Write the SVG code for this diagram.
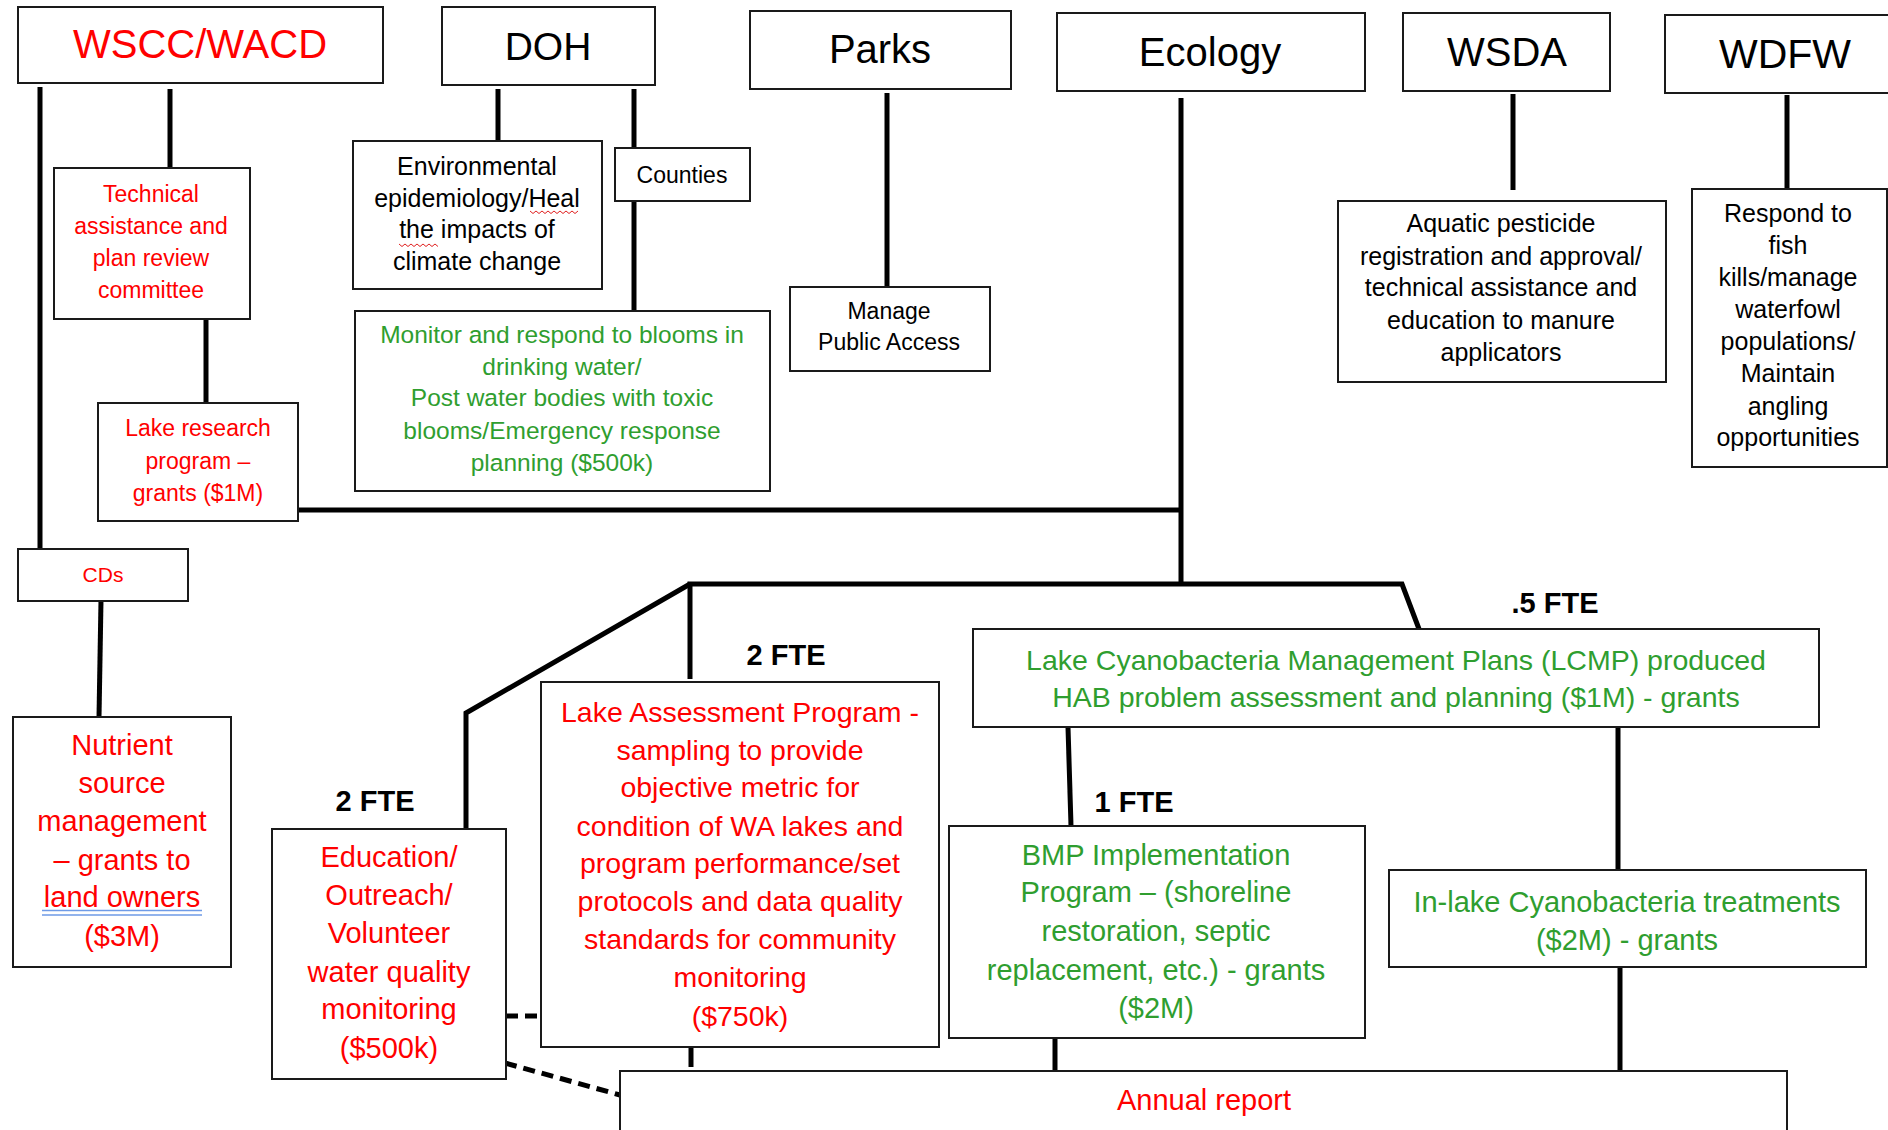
<svg xmlns="http://www.w3.org/2000/svg" width="1888" height="1130" viewBox="0 0 1888 1130">
<style>
.box{fill:#fff;stroke:#1a1a1a;stroke-width:2}
.ln{fill:none;stroke:#000;stroke-width:5}
.dash{fill:none;stroke:#000;stroke-width:5;stroke-dasharray:12 7}
text{font-family:"Liberation Sans",Arial,sans-serif;text-anchor:middle}
.r{fill:#ff0000}
.g{fill:#2f9e2f}
.k{fill:#000}
.fte{font-weight:bold;fill:#000;font-size:29px}
</style>
<rect width="1888" height="1130" fill="#fff"/>
<g id="connectors">
<line class="ln" x1="40" y1="87" x2="40" y2="549"/>
<line class="ln" x1="170" y1="89" x2="170" y2="168"/>
<line class="ln" x1="206" y1="319" x2="206" y2="403"/>
<line class="ln" x1="498" y1="89" x2="498" y2="141"/>
<line class="ln" x1="634" y1="89" x2="634" y2="148"/>
<line class="ln" x1="634" y1="201" x2="634" y2="311"/>
<line class="ln" x1="887" y1="93" x2="887" y2="287"/>
<line class="ln" x1="1181" y1="98" x2="1181" y2="586"/>
<line class="ln" x1="1513" y1="94" x2="1513" y2="190"/>
<line class="ln" x1="1787" y1="95" x2="1787" y2="189"/>
<line class="ln" x1="298" y1="510" x2="1183" y2="510"/>
<polyline class="ln" points="690,679 690,584 1402,584 1419,629"/>
<polyline class="ln" points="466,829 466,713 690,584"/>
<line class="ln" x1="101" y1="600" x2="99" y2="717"/>
<line class="ln" x1="1068" y1="727" x2="1071" y2="826"/>
<line class="ln" x1="1618" y1="727" x2="1618" y2="870"/>
<line class="ln" x1="1620" y1="967" x2="1620" y2="1071"/>
<line class="ln" x1="691" y1="1047" x2="691" y2="1067"/>
<line class="ln" x1="1055" y1="1038" x2="1055" y2="1071"/>
<line class="dash" x1="506" y1="1016" x2="541" y2="1016"/>
<line class="dash" x1="505" y1="1063" x2="620" y2="1095"/>
</g>
<g id="wscc"><rect class="box" x="18" y="7" width="365" height="76"/><text class="r" x="200" y="58" font-size="40">WSCC/WACD</text></g>
<g id="doh"><rect class="box" x="442" y="7" width="213" height="78"/><text class="k" x="548" y="60" font-size="39">DOH</text></g>
<g id="parks"><rect class="box" x="750" y="11" width="261" height="78"/><text class="k" x="880" y="63" font-size="40">Parks</text></g>
<g id="ecology"><rect class="box" x="1057" y="13" width="308" height="78"/><text class="k" x="1210" y="66" font-size="40">Ecology</text></g>
<g id="wsda"><rect class="box" x="1403" y="13" width="207" height="78"/><text class="k" x="1507" y="66" font-size="40">WSDA</text></g>
<g id="wdfw"><rect class="box" x="1665" y="15" width="240" height="78"/><text class="k" x="1785" y="68" font-size="41">WDFW</text></g>
<g id="technical"><rect class="box" x="54" y="168" width="196" height="151"/>
<text class="r" font-size="23" x="151"><tspan x="151" y="202">Technical</tspan><tspan x="151" y="234">assistance and</tspan><tspan x="151" y="266">plan review</tspan><tspan x="151" y="298">committee</tspan></text></g>
<g id="lakeresearch"><rect class="box" x="98" y="403" width="200" height="118"/>
<text class="r" font-size="23" x="198"><tspan x="198" y="436">Lake research</tspan><tspan x="198" y="469">program –</tspan><tspan x="198" y="501">grants ($1M)</tspan></text></g>
<g id="cds"><rect class="box" x="18" y="549" width="170" height="52"/><text class="r" x="103" y="582" font-size="21">CDs</text></g>
<g id="nutrient"><rect class="box" x="13" y="717" width="218" height="250"/>
<text class="r" font-size="29" x="122"><tspan x="122" y="755">Nutrient</tspan><tspan x="122" y="793">source</tspan><tspan x="122" y="831">management</tspan><tspan x="122" y="870">– grants to</tspan><tspan x="122" y="907">land owners</tspan><tspan x="122" y="946">($3M)</tspan></text>
<path d="M42 910.5H202M42 915H202" stroke="#6f9be6" stroke-width="1.6" fill="none"/></g>
<g id="env"><rect class="box" x="353" y="141" width="249" height="148"/>
<text class="k" font-size="25" x="477"><tspan x="477" y="175">Environmental</tspan><tspan x="477" y="207">epidemiology/Heal</tspan><tspan x="477" y="238">the impacts of</tspan><tspan x="477" y="270">climate change</tspan></text>
<path d="M530 211l3 2.5 3-2.5 3 2.5 3-2.5 3 2.5 3-2.5 3 2.5 3-2.5 3 2.5 3-2.5 3 2.5 3-2.5 3 2.5 3-2.5 3 2.5 3-2.5" stroke="#e02020" stroke-width="1" fill="none"/>
<path d="M399 244l3 2.5 3-2.5 3 2.5 3-2.5 3 2.5 3-2.5 3 2.5 3-2.5 3 2.5 3-2.5 3 2.5 3-2.5 3 2.5" stroke="#e02020" stroke-width="1" fill="none"/></g>
<g id="counties"><rect class="box" x="615" y="148" width="135" height="53"/><text class="k" x="682" y="183" font-size="23">Counties</text></g>
<g id="monitor"><rect class="box" x="355" y="311" width="415" height="180"/>
<text class="g" font-size="24.5" x="562"><tspan x="562" y="343">Monitor and respond to blooms in</tspan><tspan x="562" y="375">drinking water/</tspan><tspan x="562" y="406">Post water bodies with toxic</tspan><tspan x="562" y="439">blooms/Emergency response</tspan><tspan x="562" y="471">planning ($500k)</tspan></text></g>
<g id="manage"><rect class="box" x="790" y="287" width="200" height="84"/>
<text class="k" font-size="23" x="889"><tspan x="889" y="319">Manage</tspan><tspan x="889" y="350">Public Access</tspan></text></g>
<g id="pesticide"><rect class="box" x="1338" y="201" width="328" height="181"/>
<text class="k" font-size="25" x="1501"><tspan x="1501" y="232">Aquatic pesticide</tspan><tspan x="1501" y="265">registration and approval/</tspan><tspan x="1501" y="296">technical assistance and</tspan><tspan x="1501" y="329">education to manure</tspan><tspan x="1501" y="361">applicators</tspan></text></g>
<g id="fish"><rect class="box" x="1692" y="189" width="195" height="278"/>
<text class="k" font-size="25" x="1788"><tspan x="1788" y="222">Respond to</tspan><tspan x="1788" y="254">fish</tspan><tspan x="1788" y="286">kills/manage</tspan><tspan x="1788" y="318">waterfowl</tspan><tspan x="1788" y="350">populations/</tspan><tspan x="1788" y="382">Maintain</tspan><tspan x="1788" y="415">angling</tspan><tspan x="1788" y="446">opportunities</tspan></text></g>
<g id="lcmp"><rect class="box" x="973" y="629" width="846" height="98"/>
<text class="g" font-size="28.5" x="1396"><tspan x="1396" y="670">Lake Cyanobacteria Management Plans (LCMP) produced</tspan><tspan x="1396" y="707">HAB problem assessment and planning ($1M) - grants</tspan></text>
<text class="fte" x="1555" y="613">.5 FTE</text></g>
<g id="lakeassessment"><rect class="box" x="541" y="682" width="398" height="365"/>
<text class="r" font-size="28.5" x="740"><tspan x="740" y="722">Lake Assessment Program -</tspan><tspan x="740" y="760">sampling to provide</tspan><tspan x="740" y="797">objective metric for</tspan><tspan x="740" y="836">condition of WA lakes and</tspan><tspan x="740" y="873">program performance/set</tspan><tspan x="740" y="911">protocols and data quality</tspan><tspan x="740" y="949">standards for community</tspan><tspan x="740" y="987">monitoring</tspan><tspan x="740" y="1026">($750k)</tspan></text>
<text class="fte" x="786" y="665">2 FTE</text></g>
<g id="education"><rect class="box" x="272" y="829" width="234" height="250"/>
<text class="r" font-size="29" x="389"><tspan x="389" y="867">Education/</tspan><tspan x="389" y="905">Outreach/</tspan><tspan x="389" y="943">Volunteer</tspan><tspan x="389" y="982">water quality</tspan><tspan x="389" y="1019">monitoring</tspan><tspan x="389" y="1058">($500k)</tspan></text>
<text class="fte" x="375" y="811">2 FTE</text></g>
<g id="bmp"><rect class="box" x="949" y="826" width="416" height="212"/>
<text class="g" font-size="29" x="1156"><tspan x="1156" y="865">BMP Implementation</tspan><tspan x="1156" y="902">Program – (shoreline</tspan><tspan x="1156" y="941">restoration, septic</tspan><tspan x="1156" y="980">replacement, etc.) - grants</tspan><tspan x="1156" y="1018">($2M)</tspan></text>
<text class="fte" x="1134" y="812">1 FTE</text></g>
<g id="inlake"><rect class="box" x="1389" y="870" width="477" height="97"/>
<text class="g" font-size="29" x="1627"><tspan x="1627" y="912">In-lake Cyanobacteria treatments</tspan><tspan x="1627" y="950">($2M) - grants</tspan></text></g>
<g id="annual"><rect class="box" x="620" y="1071" width="1167" height="100"/>
<text class="r" x="1204" y="1110" font-size="29">Annual report</text></g>
</svg>
